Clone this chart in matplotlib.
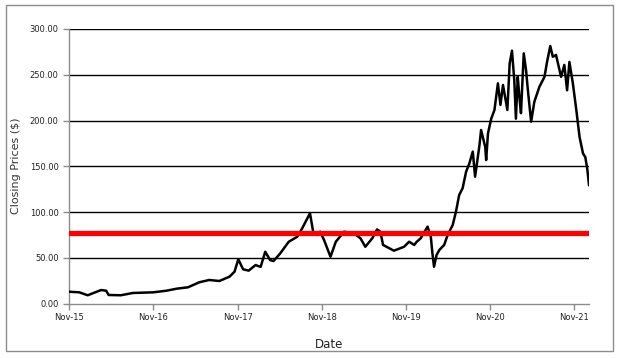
import numpy as np
import pandas as pd
import matplotlib
matplotlib.use("Agg")
import matplotlib.pyplot as plt
import matplotlib.dates as mdates
from matplotlib.patches import Rectangle

# Schlusskurse
datum = [
    "2015-11-19", "2016-01-03", "2016-02-08", "2016-04-06", "2016-04-28", "2016-05-09",
    "2016-07-01", "2016-08-22", "2016-11-18", "2017-01-15", "2017-02-28", "2017-04-18",
    "2017-06-06", "2017-07-19", "2017-09-01", "2017-10-15", "2017-11-06", "2017-11-22",
    "2017-12-13", "2018-01-06", "2018-02-05", "2018-02-27", "2018-03-19", "2018-04-09",
    "2018-04-24", "2018-05-23", "2018-06-29", "2018-08-05", "2018-08-26", "2018-09-10",
    "2018-09-29", "2018-10-14", "2018-10-28", "2018-11-12", "2018-11-29", "2018-12-27",
    "2019-01-19", "2019-02-24", "2019-04-07", "2019-05-06", "2019-05-27", "2019-06-26",
    "2019-07-17", "2019-07-31", "2019-08-12", "2019-09-28", "2019-11-11", "2019-12-03",
    "2019-12-25", "2020-01-05", "2020-01-22", "2020-02-21", "2020-03-06", "2020-03-13",
    "2020-03-20", "2020-03-31", "2020-04-12", "2020-05-03", "2020-05-18", "2020-06-09",
    "2020-06-23", "2020-07-07", "2020-07-22", "2020-08-06", "2020-08-20", "2020-09-04",
    "2020-09-14", "2020-10-03", "2020-10-10", "2020-10-28", "2020-11-01", "2020-11-09",
    "2020-11-23", "2020-12-07", "2020-12-22", "2021-01-02", "2021-01-13", "2021-02-01",
    "2021-02-11", "2021-02-21", "2021-03-03", "2021-03-10", "2021-03-18", "2021-03-25",
    "2021-04-01", "2021-04-13", "2021-04-23", "2021-05-01", "2021-05-15", "2021-05-29",
    "2021-06-20", "2021-07-12", "2021-07-23", "2021-08-06", "2021-08-17", "2021-08-31",
    "2021-09-22", "2021-10-06", "2021-10-18", "2021-10-28", "2021-11-12", "2021-11-27",
    "2021-12-11", "2021-12-26", "2022-01-05", "2022-01-14", "2022-01-21",
]
kurs = [
    12.9, 12.2, 9.0, 14.7, 14.0, 9.3,
    9.0, 11.5, 12.2, 14.0, 16.2, 17.7,
    23.2, 25.7, 24.6, 29.3, 34.8, 48.3,
    37.4, 35.9, 42.0, 40.0, 56.6, 47.5,
    46.4, 54.8, 67.5, 73.0, 82.0, 89.4,
    98.6, 76.7, 74.9, 78.5, 69.4, 51.1,
    67.5, 78.5, 76.7, 71.2, 62.0, 71.2,
    81.0, 78.5, 64.0, 57.7, 62.0, 67.5,
    64.0, 67.5, 71.2, 84.0, 73.0, 54.8,
    40.2, 53.0, 58.5, 64.0, 74.9, 85.8,
    100.3, 118.6, 126.0, 144.0, 153.0, 166.0,
    138.6, 173.0, 189.6, 171.0, 156.8, 186.0,
    202.0, 211.5, 240.6, 217.0, 238.8, 211.5,
    262.5, 276.3, 244.0, 202.0, 247.7, 226.0,
    208.0, 273.4, 255.0, 233.0, 198.7, 220.5,
    236.9, 247.7, 264.0, 281.4, 269.7, 271.6,
    247.7, 260.7, 233.0, 264.0, 240.6, 211.5,
    182.0, 164.0, 160.0, 146.0, 129.5,
]
schwelle = 76.7     # rote Linie

datum = pd.to_datetime(datum)
y_ticks = np.arange(0, 301, 50)
x_ticks = pd.to_datetime(["2015-11-19", "2016-11-19", "2017-11-19", "2018-11-19",
                          "2019-11-19", "2020-11-19", "2021-11-19"])

fig = plt.figure(figsize=(6.18, 3.58), dpi=100)
ax = fig.add_axes([69/618, 1 - 303.5/358, 520/618, 274.5/358])

# Rahmen um das Diagramm
fig.patches.append(Rectangle((6/618, 1 - 351/358), 607/618, 346/358,
                             transform=fig.transFigure, fill=False,
                             edgecolor='#8c8c8c', linewidth=1.0))

for v in y_ticks[1:]:
    ax.axhline(v, color='black', linewidth=1.0, zorder=1)

ax.plot(datum, kurs, color='black', linewidth=1.8, zorder=3)
ax.axhline(schwelle, color='#ff0000', linewidth=3.8, zorder=4)

ax.set_ylim(0, 300)
ax.set_xlim(datum[0], datum[-1])
ax.set_yticks(y_ticks)
ax.set_yticklabels([f"{v:.2f}" for v in y_ticks])
ax.set_xticks(x_ticks)
ax.xaxis.set_major_formatter(mdates.DateFormatter('%b-%y'))

for s in ['top', 'right']:
    ax.spines[s].set_visible(False)
for s in ['left', 'bottom']:
    ax.spines[s].set_color('#8c8c8c')
    ax.spines[s].set_linewidth(1.0)
ax.tick_params(axis='both', colors='#8c8c8c', labelcolor='#222222',
               labelsize=6, length=4, width=1.0, direction='out')
ax.tick_params(axis='x', pad=3)

ax.set_ylabel("Closing Prices ($)", fontsize=8, color='#333333', labelpad=6)
ax.set_xlabel("Date", fontsize=8.5, color='#222222', labelpad=11)

fig.savefig("out.png", dpi=100)
